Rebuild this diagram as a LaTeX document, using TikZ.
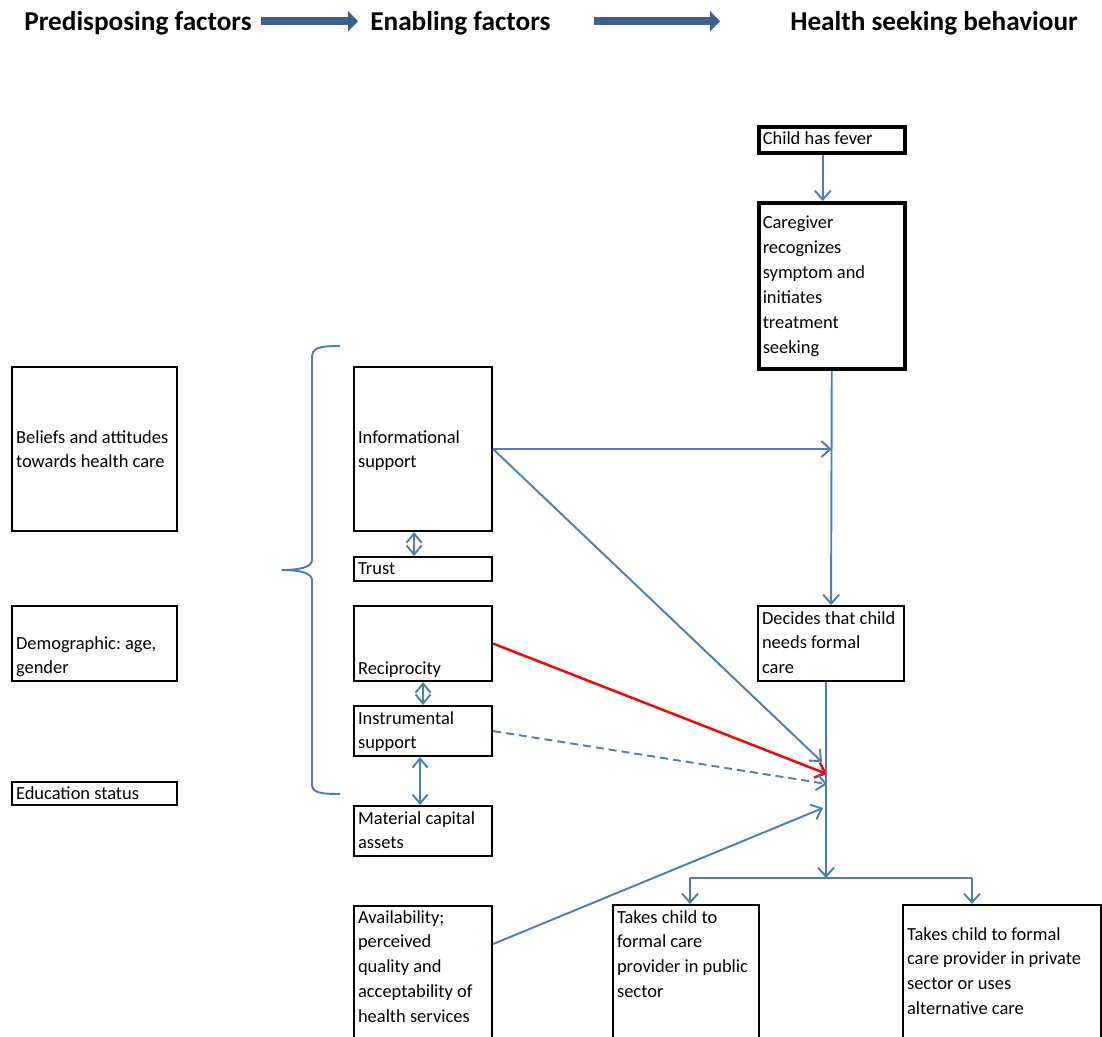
\documentclass[tikz,border=0pt]{standalone}
\usepackage{fontspec}
\setmainfont{Carlito}
\usetikzlibrary{arrows.meta}
\definecolor{linkblue}{HTML}{4A7EBB}
\definecolor{headblue}{HTML}{3B5F8E}
\tikzset{
  frame/.style={draw, line width=1.2pt, anchor=north west, inner xsep=0.08cm, inner ysep=0pt,
    align=left, font=\fontsize{10.5}{14.17}\selectfont,
    execute at begin node={\spaceskip=0.226em\xspaceskip=0.226em\hyphenpenalty=10000}},
  heavy/.style={frame, line width=2pt},
  % width, height, first baseline (in px)
  box/.code n args={3}{%
    \pgfmathsetlengthmacro\boxtw{#1*0.02cm-0.16cm}%
    \pgfmathsetlengthmacro\boxth{#3*0.02cm}%
    \pgfmathsetlengthmacro\boxtd{(#2-#3)*0.02cm}%
    \edef\boxset{\noexpand\tikzset{text width=\boxtw,text height=\boxth,text depth=\boxtd}}%
    \boxset},
  head/.style={anchor=base west, inner sep=0pt, font=\bfseries\fontsize{15.5}{18}\selectfont},
  hdarrow/.style={headblue, line width=0.16cm, -{Triangle[length=0.2cm,width=0.4cm]}},
  link/.style={linkblue, line width=1.1pt},
  flow/.style={link, -{Straight Barb[length=0.18cm,width=0.32cm]}},
  both/.style={link, {Straight Barb[length=0.18cm,width=0.3cm]}-{Straight Barb[length=0.18cm,width=0.3cm]}},
}
\begin{document}
\begin{tikzpicture}[x=0.02cm,y=-0.02cm]
\useasboundingbox (0,0) rectangle (1102,1036);
% header
\node[head] (pre) at (24,30) {Predisposing factors};
\node[head] (enab) at (370,30) {Enabling factors};
\node[head] (hsb) at (790,30) {Health seeking behaviour};
\draw[hdarrow, shorten <=0.18cm, shorten >=0.24cm] ([yshift=0.03cm]pre.east) -- ([yshift=0.03cm]enab.west);
\draw[hdarrow, shorten <=0.86cm, shorten >=1.4cm] ([yshift=0.03cm]enab.east) -- ([yshift=0.03cm]hsb.west);
% boxes
\node[heavy, box={146}{26}{18}] (fever) at (757,125) {Child has fever};
\node[heavy, box={146}{166}{26}] (care) at (757,201) {Caregiver\\recognizes\\symptom and\\initiates\\treatment\\seeking};
\node[frame, box={165}{164}{76}] (beliefs) at (11,366) {Beliefs and attitudes\\towards health care};
\node[frame, box={165}{75}{43}] (demog) at (11,605) {Demographic: age,\\gender};
\node[frame, box={165}{23}{17}] (edu) at (11,781) {Education status};
\node[frame, box={138}{164}{76}] (info) at (353,366) {Informational\\support};
\node[frame, box={138}{24}{17}] (trust) at (353,556) {Trust};
\node[frame, box={138}{75}{68}] (recip) at (353,605) {Reciprocity};
\node[frame, box={138}{50}{18}] (instr) at (353,705) {Instrumental\\support};
\node[frame, box={138}{50}{18}] (assets) at (353,805) {Material capital\\assets};
\node[frame, box={138}{140}{17}] (avail) at (353,905) {Availability;\\perceived\\quality and\\acceptability of\\health services};
\node[frame, box={146}{75}{18}] (decides) at (757,605) {Decides that child\\needs formal\\care};
\node[frame, box={146}{140}{18}] (public) at (612,904) {Takes child to\\formal care\\provider in public\\sector};
\node[frame, box={198}{140}{35}] (private) at (902,904) {Takes child to formal\\care provider in private\\sector or uses\\alternative care};
% brace
\draw[link] (340,346) .. controls (318,346) and (312,348) .. (312,358) -- (312,560)
  .. controls (312,567) and (300,570) .. (282,570) .. controls (300,570) and (312,573) .. (312,580)
  -- (312,784) .. controls (312,792) and (318,794) .. (340,794);
% points on the decision line
\coordinate (inInfo) at (822,762);
\coordinate (inRecip) at (827,774);
\coordinate (inInstr) at (827,784);
\coordinate (inAvail) at (823,808);
\coordinate (split) at (826,878);
\coordinate (dropL) at (690,878);
\coordinate (dropR) at (972,878);
% connectors
\draw[flow] ([xshift=-0.18cm]fever.south) -- ([xshift=-0.18cm]care.north);
\draw[flow] (care.south) -- (decides.north);
\draw[flow] (info.east) -- (info.east -| care.south);
\draw[flow] (info.east) -- (inInfo);
\draw[flow, red, line width=1.4pt] (recip.east) -- (inRecip);
\draw[flow, dash pattern=on 0.16cm off 0.1cm] (instr.east) -- (inInstr);
\draw[flow] ([yshift=-0.78cm]avail.north east) -- (inAvail);
\draw[flow] (decides.south -| split) -- (split);
\draw[link] (dropL) -- (dropR);
\draw[flow] (dropL) -- (dropL |- public.north);
\draw[flow] (dropR) -- (dropR |- private.north);
\draw[both] ([xshift=-0.18cm]info.south) -- ([xshift=-0.18cm]trust.north);
\draw[both] (recip.south) -- (instr.north);
\draw[both] ([xshift=-0.06cm]instr.south) -- ([xshift=-0.06cm]assets.north);
\end{tikzpicture}
\end{document}
